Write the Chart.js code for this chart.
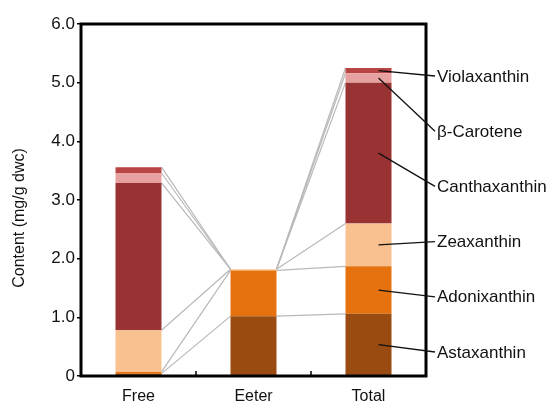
<!DOCTYPE html>
<html>
<head>
<meta charset="utf-8">
<script src="https://cdn.jsdelivr.net/npm/chart.js@4"></script>
<style>
  html, body { margin: 0; padding: 0; background: #fff; }
  #wrap { width: 549px; height: 408px; }
</style>
</head>
<body>
<div id="wrap"><canvas id="c" width="549" height="408"></canvas></div>
<script>
// Carotenoid content by fraction (mg/g dry weight of cells)
const categories = ['Free', 'Eeter', 'Total'];
const pigments = ['Astaxanthin', 'Adonixanthin', 'Zeaxanthin', 'Canthaxanthin', '\u03B2-Carotene', 'Violaxanthin'];
const astaxanthin   = [0.04, 1.02, 1.06];
const adonixanthin  = [0.03, 0.78, 0.81];
const zeaxanthin    = [0.71, 0.02, 0.73];
const canthaxanthin = [2.51, 0.00, 2.40];
const betaCarotene  = [0.17, 0.00, 0.16];
const violaxanthin  = [0.10, 0.00, 0.09];
const yTicks = [0, 1, 2, 3, 4, 5, 6];
const yTitle = 'Content (mg/g dwc)';

const seriesValues = [astaxanthin, adonixanthin, zeaxanthin, canthaxanthin, betaCarotene, violaxanthin];
const seriesColors = ['#9a4b12', '#e5720f', '#f8c18f', '#993333', '#e7a1a0', '#b94444'];

const FONT = "'Liberation Sans', Arial, sans-serif";

// Grey connector lines between the segment boundaries of neighbouring bars
const seriesLines = {
  id: 'seriesLines',
  beforeDatasetsDraw(chart) {
    const ctx = chart.ctx;
    ctx.save();
    ctx.strokeStyle = '#b8b8b8';
    ctx.lineWidth = 1.2;
    for (let d = 0; d < chart.data.datasets.length; d++) {
      const els = chart.getDatasetMeta(d).data;
      for (let i = 0; i < els.length - 1; i++) {
        const a = els[i], b = els[i + 1];
        ctx.beginPath();
        ctx.moveTo(a.x + a.width / 2, a.y);
        ctx.lineTo(b.x - b.width / 2, b.y);
        ctx.stroke();
      }
    }
    ctx.restore();
  }
};

// Frame, inner category ticks, axis title and the pigment callouts on the last bar
const frameAndCallouts = {
  id: 'frameAndCallouts',
  afterDatasetsDraw(chart) {
    const ctx = chart.ctx;
    const area = chart.chartArea;
    const xs = chart.scales.x;
    ctx.save();
    // small inward ticks between categories
    ctx.strokeStyle = '#000';
    ctx.lineWidth = 1.5;
    for (let i = 0; i < categories.length - 1; i++) {
      const xm = (xs.getPixelForValue(i) + xs.getPixelForValue(i + 1)) / 2;
      ctx.beginPath();
      ctx.moveTo(xm, area.bottom);
      ctx.lineTo(xm, area.bottom - 5);
      ctx.stroke();
    }
    // thick frame
    ctx.lineWidth = 3;
    ctx.strokeRect(area.left, area.top, area.right - area.left, area.bottom - area.top);

    // y-axis title
    ctx.save();
    ctx.translate(20, (area.top + area.bottom) / 2 + 18);
    ctx.rotate(-Math.PI / 2);
    ctx.font = '16px ' + FONT;
    ctx.fillStyle = '#111';
    ctx.textAlign = 'center';
    ctx.textBaseline = 'middle';
    ctx.fillText(yTitle, 0, 0);
    ctx.restore();

    // callouts
    const last = categories.length - 1;
    ctx.font = '17px ' + FONT;
    ctx.fillStyle = '#111';
    ctx.textBaseline = 'middle';
    ctx.textAlign = 'left';
    const labelX = area.right + 11;
    const n = pigments.length;
    for (let d = 0; d < n; d++) {
      const el = chart.getDatasetMeta(d).data[last];
      const sx = el.x + 10;
      const sy = (el.y + el.base) / 2;
      const slot = n - 1 - d;
      const ly = area.top + 53 + slot * 55.2;
      ctx.strokeStyle = '#111';
      ctx.lineWidth = 1.3;
      ctx.beginPath();
      ctx.moveTo(sx, sy);
      ctx.lineTo(labelX - 2, ly - 1);
      ctx.stroke();
      ctx.fillText(pigments[d], labelX, ly);
    }
    ctx.restore();
  }
};

new Chart(document.getElementById('c'), {
  type: 'bar',
  data: {
    labels: categories,
    datasets: pigments.map((name, k) => ({
      label: name,
      data: seriesValues[k],
      backgroundColor: seriesColors[k],
      borderWidth: 0,
      barPercentage: 1.0,
      categoryPercentage: 0.4
    }))
  },
  options: {
    responsive: false,
    animation: false,
    layout: { padding: { top: 24, right: 123, left: 0, bottom: 0 } },
    plugins: {
      legend: { display: false },
      tooltip: { enabled: false }
    },
    scales: {
      x: {
        stacked: true,
        grid: { display: false },
        border: { display: false },
        ticks: { color: '#111', font: { family: FONT, size: 16 }, padding: 3 },
        afterFit(scale) { scale.height = 32; }
      },
      y: {
        stacked: true,
        min: 0,
        max: 6,
        afterBuildTicks(scale) { scale.ticks = yTicks.map(v => ({ value: v })); },
        ticks: {
          color: '#111',
          font: { family: FONT, size: 17 },
          padding: 2,
          callback: v => (v === 0 ? '0' : v.toFixed(1))
        },
        grid: { drawOnChartArea: false, drawTicks: true, tickLength: 4, color: '#000', lineWidth: 1.5 },
        border: { display: false },
        title: { display: false },
        afterFit(scale) { scale.width = 81; }
      }
    }
  },
  plugins: [seriesLines, frameAndCallouts]
});
</script>
</body>
</html>
